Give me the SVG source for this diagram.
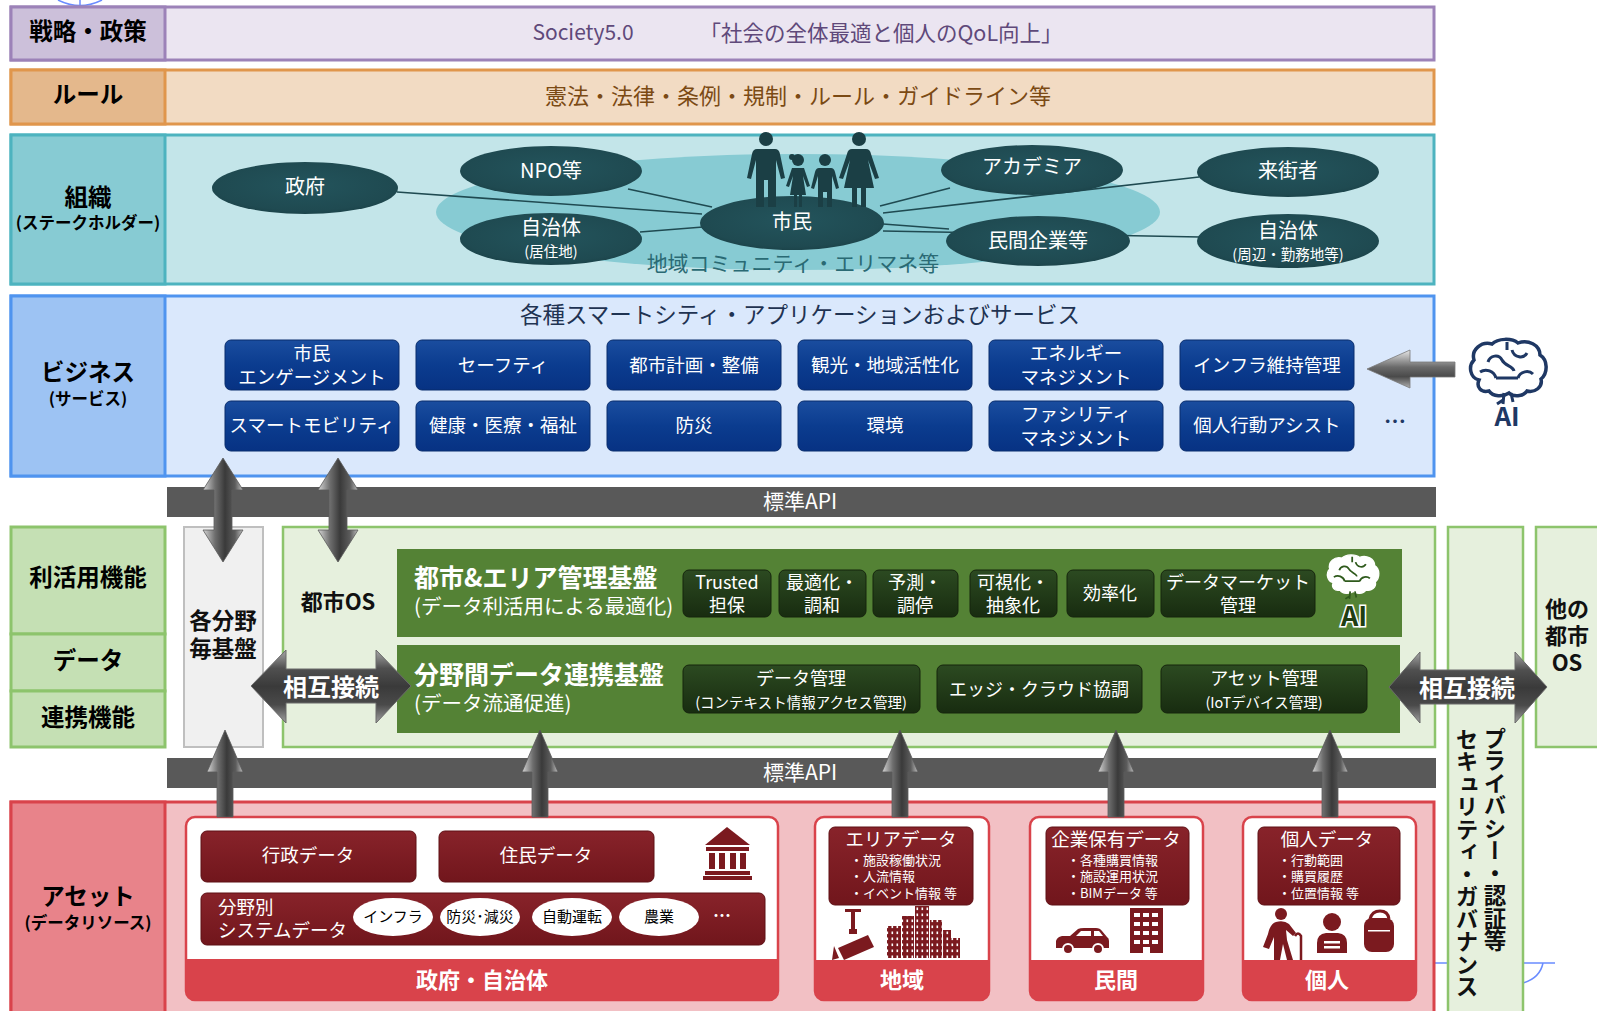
<svg xmlns="http://www.w3.org/2000/svg" width="1597" height="1011" viewBox="0 0 1597 1011">
<defs>
<style>
text { font-family: "Noto Sans CJK JP", "Noto Sans CJK SC", "Noto Sans", sans-serif; }
.c { text-anchor: middle; dominant-baseline: central; }
.s { text-anchor: start; dominant-baseline: central; }
.lbl { font-size: 23.5px; font-weight: 700; fill: #000; }
.sub { font-size: 16.5px; font-weight: 700; fill: #000; }
.ell { fill: url(#gEll); }
.eT { fill: #fff; font-size: 20px; }
.eS { fill: #fff; font-size: 14.5px; }
.btn { fill: url(#gBtn); stroke: #082c6c; stroke-width: 1; }
.bT { fill: #fff; font-size: 18.5px; }
.dg { fill: url(#gDkGreen); stroke: #15240d; stroke-width: 1; }
.gT { fill: #fff; font-size: 18px; }
.gS { fill: #fff; font-size: 14.5px; }
.rd { fill: url(#gRed); stroke: #5e1015; stroke-width: 1; }
.rT { fill: #fff; font-size: 18.5px; }
.rS { fill: #fff; font-size: 13px; }
.band { fill: #d9434b; }
.card { fill: #fff; stroke: #d9434b; stroke-width: 2.5; }
.bandT { fill: #fff; font-size: 22px; font-weight: 700; }
.icon { fill: #7b1a1f; }
.metalV { fill: url(#gMetalV); stroke: #5a5a5a; stroke-width: 0.8; }
.metalH { fill: url(#gMetalH); stroke: #6a6a6a; stroke-width: 1; }
.link { stroke: #1f4a51; stroke-width: 1.6; fill: none; }
.api { fill: #595959; }
.apiT { fill: #fff; font-size: 21px; }
.oval { fill: #fff; }
.ovT { fill: #000; font-size: 15px; }
.vt { writing-mode: vertical-rl; font-size: 22.5px; font-weight: 700; fill: #111; }
</style>
<radialGradient id="gEll" cx="0.5" cy="0.45" r="0.6">
<stop offset="0" stop-color="#23545c"/>
<stop offset="0.8" stop-color="#1f4a51"/>
<stop offset="1" stop-color="#1a4046"/>
</radialGradient>
<linearGradient id="gBtn" x1="0" y1="0" x2="0" y2="1">
<stop offset="0" stop-color="#1a4d9f"/>
<stop offset="0.5" stop-color="#0b3c8f"/>
<stop offset="1" stop-color="#073283"/>
</linearGradient>
<linearGradient id="gDkGreen" x1="0" y1="0" x2="0" y2="1">
<stop offset="0" stop-color="#2c4a21"/>
<stop offset="1" stop-color="#182c10"/>
</linearGradient>
<linearGradient id="gRed" x1="0" y1="0" x2="0" y2="1">
<stop offset="0" stop-color="#88232a"/>
<stop offset="1" stop-color="#71161c"/>
</linearGradient>
<linearGradient id="gMetalV" x1="0" y1="0" x2="1" y2="0">
<stop offset="0" stop-color="#d6d6d6"/>
<stop offset="0.3" stop-color="#6e6e6e"/>
<stop offset="0.55" stop-color="#3a3a3a"/>
<stop offset="0.8" stop-color="#5c5c5c"/>
<stop offset="1" stop-color="#bdbdbd"/>
</linearGradient>
<linearGradient id="gMetalH" x1="0" y1="0" x2="0" y2="1">
<stop offset="0" stop-color="#a8a8a8"/>
<stop offset="0.25" stop-color="#505050"/>
<stop offset="0.5" stop-color="#3a3a3a"/>
<stop offset="0.75" stop-color="#4a4a4a"/>
<stop offset="1" stop-color="#a0a0a0"/>
</linearGradient>
<linearGradient id="gAiArrow" x1="0" y1="0" x2="0" y2="1">
<stop offset="0" stop-color="#e8e8e8"/>
<stop offset="0.45" stop-color="#6a6a6a"/>
<stop offset="0.7" stop-color="#4a4a4a"/>
<stop offset="1" stop-color="#b0b0b0"/>
</linearGradient>
<pattern id="pWin" width="5" height="6" patternUnits="userSpaceOnUse">
<rect width="5" height="6" fill="#7b1a1f"/>
<rect x="1.5" y="1.5" width="1.6" height="2.6" fill="#fff"/>
</pattern>
<path id="brainOutline" d="M12,42 C3,40 1,28 7,22 C4,12 14,3 25,6 C31,0 45,0 51,5 C61,1 73,7 73,17 C81,22 81,35 74,41 C76,49 68,55 60,53 C56,59 46,59 42,55 C36,59 26,59 22,53 C14,55 9,49 12,42 Z"/>
<path id="brainFolds" fill="none" d="M21,24 C23,17 32,16 35,22 M45,12 C47,20 57,21 60,15 M13,34 C19,30 27,33 29,40 M29,40 H51 M51,40 C53,33 62,32 66,36 M35,22 C38,28 46,28 47,33 M40,4 V12 M37,55 L36,66 M44,55 L46,64 M36,62 L30,66"/>
</defs>

<rect width="1597" height="1011" fill="#fff"/>

<!-- stray guide marks -->
<g fill="none" stroke="#6a8cff" stroke-width="1.5">
<path d="M58,0 Q80,11 102,0 M80,0 V5"/>
<path d="M1435,963 H1555 M1543,963 Q1540,978 1523,983"/>
</g>

<!-- strategy / policy layer -->
<g id="layer-strategy">
<rect x="11" y="7" width="1423" height="53" fill="#ebe5f1" stroke="#9c82b8" stroke-width="3"/>
<rect x="11" y="7" width="154" height="53" fill="#ccc0da" stroke="#9c82b8" stroke-width="3"/>
<text class="c lbl" x="88" y="30">戦略・政策</text>
<text class="c" x="583" y="31" font-size="21" fill="#5f497a">Society5.0</text>
<text class="c" x="881" y="31" font-size="21.5" fill="#5f497a">「社会の全体最適と個人のQoL向上」</text>
</g>

<!-- rule layer -->
<g id="layer-rule">
<rect x="11" y="70" width="1423" height="54" fill="#f2dbc3" stroke="#e0964c" stroke-width="3"/>
<rect x="11" y="70" width="154" height="54" fill="#e4b88c" stroke="#e0964c" stroke-width="3"/>
<text class="c lbl" x="88" y="93">ルール</text>
<text class="c" x="798" y="94" font-size="22" fill="#7b4a14">憲法・法律・条例・規制・ルール・ガイドライン等</text>
</g>

<!-- organisation layer -->
<g id="layer-organization">
<rect x="11" y="135" width="1423" height="149" fill="#c3e5e9" stroke="#4db3bf" stroke-width="3"/>
<rect x="11" y="135" width="154" height="149" fill="#87cbd3" stroke="#4db3bf" stroke-width="3"/>
<text class="c lbl" x="88" y="196">組織</text>
<text class="c sub" x="88" y="222">(ステークホルダー)</text>
</g>

<g id="community">
<ellipse cx="798" cy="212" rx="362" ry="58" fill="#87cbd3"/>
<text class="c" x="793" y="262" font-size="21" fill="#2a6a74">地域コミュニティ・エリマネ等</text>
</g>

<g id="stakeholder-links">
<path class="link" d="M397,192 L702,214"/>
<path class="link" d="M628,189 L712,207"/>
<path class="link" d="M640,232 L703,227"/>
<path class="link" d="M950,188 L880,206"/>
<path class="link" d="M1199,177 L883,213"/>
<path class="link" d="M883,224 L949,229"/>
<path class="link" d="M883,231 L1200,237"/>
</g>

<g id="org-government">
<ellipse class="ell" cx="305" cy="188" rx="93" ry="26"/>
<text class="c eT" x="305" y="185">政府</text>
</g>
<g id="org-npo">
<ellipse class="ell" cx="551" cy="171" rx="91" ry="25"/>
<text class="c eT" x="551" y="169">NPO等</text>
</g>
<g id="org-municipality-home">
<ellipse class="ell" cx="551" cy="239" rx="91" ry="26"/>
<text class="c eT" x="551" y="226">自治体</text>
<text class="c eS" x="551" y="250">(居住地)</text>
</g>
<g id="org-citizen">
<ellipse class="ell" cx="792" cy="223" rx="92" ry="27"/>
<text class="c eT" x="792" y="220">市民</text>
</g>
<g id="org-academia">
<ellipse class="ell" cx="1032" cy="170" rx="91" ry="25"/>
<text class="c eT" x="1032" y="165">アカデミア</text>
</g>
<g id="org-company">
<ellipse class="ell" cx="1038" cy="241" rx="92" ry="25"/>
<text class="c eT" x="1038" y="239">民間企業等</text>
</g>
<g id="org-visitor">
<ellipse class="ell" cx="1288" cy="172" rx="91" ry="25"/>
<text class="c eT" x="1288" y="169">来街者</text>
</g>
<g id="org-municipality-near">
<ellipse class="ell" cx="1288" cy="241" rx="91" ry="27"/>
<text class="c eT" x="1288" y="229">自治体</text>
<text class="c eS" x="1288" y="253">(周辺・勤務地等)</text>
</g>

<!-- family silhouettes above the citizen node -->
<g id="citizens-figures" fill="#1b3f45">
<circle cx="766" cy="139" r="7"/>
<path d="M757,149 H775 Q779,149 780,154 L785,178 L781,179 L776,160 V207 H768 V180 H764 V207 H756 V160 L751,179 L747,178 L752,154 Q753,149 757,149 Z"/>
<circle cx="798" cy="160" r="6"/>
<circle cx="792" cy="157" r="3"/>
<path d="M792,168 H804 L810,186 L807,187 L803,176 L806,195 H802 V207 H799 V195 H797 V207 H794 V195 H790 L793,176 L789,187 L786,186 Z"/>
<circle cx="825" cy="160" r="6"/>
<path d="M819,168 H831 Q834,168 835,172 L839,188 L836,189 L832,176 V207 H827 V192 H823 V207 H818 V176 L814,189 L811,188 L815,172 Q816,168 819,168 Z"/>
<circle cx="859" cy="139" r="7"/>
<path d="M852,149 H866 Q870,149 871,154 L879,178 L875,179 L868,160 L874,188 H866 V207 H861 V188 H857 V207 H852 V188 H844 L850,160 L843,179 L839,178 L847,154 Q848,149 852,149 Z"/>
</g>

<!-- business layer -->
<g id="layer-business">
<rect x="11" y="296" width="1423" height="180" fill="#dae8fc" stroke="#4f94ef" stroke-width="3"/>
<rect x="11" y="296" width="154" height="180" fill="#9dc3f3" stroke="#4f94ef" stroke-width="3"/>
<text class="c lbl" x="88" y="371">ビジネス</text>
<text class="c sub" x="88" y="398">(サービス)</text>
<text class="c" x="800" y="313" font-size="22.5" fill="#1f3352">各種スマートシティ・アプリケーションおよびサービス</text>
<text class="c" x="1395" y="419" font-size="22" font-weight="700" fill="#1f3864">…</text>
</g>

<g id="svc-engagement">
<rect class="btn" x="225" y="340" width="174" height="50" rx="6"/>
<text class="c bT" x="312" y="352">市民</text>
<text class="c bT" x="312" y="376">エンゲージメント</text>
</g>
<g id="svc-safety">
<rect class="btn" x="416" y="340" width="174" height="50" rx="6"/>
<text class="c bT" x="503" y="364">セーフティ</text>
</g>
<g id="svc-planning">
<rect class="btn" x="607" y="340" width="174" height="50" rx="6"/>
<text class="c bT" x="694" y="364">都市計画・整備</text>
</g>
<g id="svc-tourism">
<rect class="btn" x="798" y="340" width="174" height="50" rx="6"/>
<text class="c bT" x="885" y="364">観光・地域活性化</text>
</g>
<g id="svc-energy">
<rect class="btn" x="989" y="340" width="174" height="50" rx="6"/>
<text class="c bT" x="1076" y="352">エネルギー</text>
<text class="c bT" x="1076" y="376">マネジメント</text>
</g>
<g id="svc-infra">
<rect class="btn" x="1180" y="340" width="174" height="50" rx="6"/>
<text class="c bT" x="1267" y="364">インフラ維持管理</text>
</g>
<g id="svc-mobility">
<rect class="btn" x="225" y="401" width="174" height="50" rx="6"/>
<text class="c bT" x="312" y="424" font-size="18">スマートモビリティ</text>
</g>
<g id="svc-health">
<rect class="btn" x="416" y="401" width="174" height="50" rx="6"/>
<text class="c bT" x="503" y="424">健康・医療・福祉</text>
</g>
<g id="svc-disaster">
<rect class="btn" x="607" y="401" width="174" height="50" rx="6"/>
<text class="c bT" x="694" y="424">防災</text>
</g>
<g id="svc-environment">
<rect class="btn" x="798" y="401" width="174" height="50" rx="6"/>
<text class="c bT" x="885" y="424">環境</text>
</g>
<g id="svc-facility">
<rect class="btn" x="989" y="401" width="174" height="50" rx="6"/>
<text class="c bT" x="1076" y="413">ファシリティ</text>
<text class="c bT" x="1076" y="437">マネジメント</text>
</g>
<g id="svc-personal">
<rect class="btn" x="1180" y="401" width="174" height="50" rx="6"/>
<text class="c bT" x="1267" y="424">個人行動アシスト</text>
</g>

<!-- AI badge beside business layer -->
<g id="ai-business">
<use href="#brainOutline" transform="translate(1467,338)" fill="#fff" stroke="#1f3864" stroke-width="3.5"/>
<use href="#brainFolds" transform="translate(1467,338)" stroke="#1f3864" stroke-width="3"/>
<text class="c" x="1507" y="414" font-size="26" font-weight="700" fill="#1f3864">AI</text>
</g>

<!-- standard API bars -->
<g id="api-upper">
<rect class="api" x="167" y="487" width="1269" height="30"/>
<text class="c apiT" x="800" y="500">標準API</text>
</g>
<g id="api-lower">
<rect class="api" x="167" y="758" width="1269" height="30"/>
<text class="c apiT" x="800" y="771">標準API</text>
</g>

<!-- function / data / linkage layer -->
<g id="layer-function">
<rect x="11" y="527" width="154" height="107" fill="#c5e0b4" stroke="#8dc46c" stroke-width="3"/>
<rect x="11" y="634" width="154" height="57" fill="#c5e0b4" stroke="#8dc46c" stroke-width="3"/>
<rect x="11" y="691" width="154" height="56" fill="#c5e0b4" stroke="#8dc46c" stroke-width="3"/>
<text class="c lbl" x="88" y="576">利活用機能</text>
<text class="c lbl" x="88" y="659">データ</text>
<text class="c lbl" x="88" y="716">連携機能</text>
</g>

<g id="domain-platform">
<rect x="184" y="527" width="79" height="220" fill="#f0f0f0" stroke="#bfbfbf" stroke-width="2"/>
<text class="c" x="223" y="619" font-size="22.5" font-weight="700" fill="#111">各分野</text>
<text class="c" x="223" y="647" font-size="22.5" font-weight="700" fill="#111">毎基盤</text>
</g>

<g id="city-os">
<rect x="283" y="527" width="1152" height="220" fill="#e6f0dd" stroke="#8dc46c" stroke-width="2.5"/>
<text class="c" x="338" y="600" font-size="22" font-weight="700" fill="#111">都市OS</text>
</g>

<g id="area-management">
<rect x="397" y="549" width="1005" height="88" fill="#548235"/>
<text class="s" x="414" y="576" font-size="25" font-weight="700" fill="#fff">都市&amp;エリア管理基盤</text>
<text class="s" x="414" y="605" font-size="20.5" fill="#fff">(データ利活用による最適化)</text>
</g>
<g id="fn-trusted">
<rect class="dg" x="683" y="570" width="88" height="47" rx="6"/>
<text class="c gT" x="727" y="581">Trusted</text>
<text class="c gT" x="727" y="604">担保</text>
</g>
<g id="fn-optimize">
<rect class="dg" x="779" y="570" width="87" height="47" rx="6"/>
<text class="c gT" x="822" y="581">最適化・</text>
<text class="c gT" x="822" y="604">調和</text>
</g>
<g id="fn-predict">
<rect class="dg" x="873" y="570" width="85" height="47" rx="6"/>
<text class="c gT" x="915" y="581">予測・</text>
<text class="c gT" x="915" y="604">調停</text>
</g>
<g id="fn-visualize">
<rect class="dg" x="970" y="570" width="87" height="47" rx="6"/>
<text class="c gT" x="1013" y="581">可視化・</text>
<text class="c gT" x="1013" y="604">抽象化</text>
</g>
<g id="fn-efficiency">
<rect class="dg" x="1067" y="570" width="87" height="47" rx="6"/>
<text class="c gT" x="1110" y="592">効率化</text>
</g>
<g id="fn-market">
<rect class="dg" x="1161" y="570" width="154" height="47" rx="6"/>
<text class="c gT" x="1238" y="581">データマーケット</text>
<text class="c gT" x="1238" y="604">管理</text>
</g>
<g id="ai-platform">
<use href="#brainOutline" transform="translate(1325,554) scale(0.68)" fill="#fff" stroke="#fff" stroke-width="2"/>
<use href="#brainFolds" transform="translate(1325,554) scale(0.68)" stroke="#2f5a1c" stroke-width="2.6"/>
<text class="c" x="1354" y="614" font-size="27" font-weight="700" fill="#1f3d12" stroke="#fff" stroke-width="3" paint-order="stroke">AI</text>
</g>

<g id="data-linkage">
<rect x="397" y="645" width="1003" height="88" fill="#548235"/>
<text class="s" x="414" y="673" font-size="25" font-weight="700" fill="#fff">分野間データ連携基盤</text>
<text class="s" x="414" y="702" font-size="20.5" fill="#fff">(データ流通促進)</text>
</g>
<g id="fn-data-mgmt">
<rect class="dg" x="683" y="665" width="237" height="48" rx="6"/>
<text class="c gT" x="801" y="677">データ管理</text>
<text class="c gS" x="801" y="701">(コンテキスト情報アクセス管理)</text>
</g>
<g id="fn-edge-cloud">
<rect class="dg" x="937" y="665" width="205" height="48" rx="6"/>
<text class="c gT" x="1039" y="688" font-size="18.5">エッジ・クラウド協調</text>
</g>
<g id="fn-asset-mgmt">
<rect class="dg" x="1161" y="665" width="206" height="48" rx="6"/>
<text class="c gT" x="1264" y="677">アセット管理</text>
<text class="c gS" x="1264" y="701">(IoTデバイス管理)</text>
</g>

<g id="security">
<rect x="1448" y="527" width="75" height="495" fill="#e6f0dd" stroke="#8dc46c" stroke-width="2.5"/>
<text class="vt" x="1495" y="727">プライバシー・認証等</text>
<text class="vt" x="1467" y="728">セキュリティ・ガバナンス</text>
</g>

<g id="other-city-os">
<rect x="1536" y="527" width="64" height="220" fill="#e6f0dd" stroke="#8dc46c" stroke-width="2.5"/>
<text class="c" x="1567" y="607" font-size="22" font-weight="700" fill="#111">他の</text>
<text class="c" x="1567" y="634" font-size="22" font-weight="700" fill="#111">都市</text>
<text class="c" x="1567" y="661" font-size="22" font-weight="700" fill="#111">OS</text>
</g>

<!-- asset layer -->
<g id="layer-asset">
<rect x="11" y="802" width="1423" height="220" fill="#f2c0c4" stroke="#d9434b" stroke-width="3"/>
<rect x="11" y="802" width="154" height="220" fill="#e8838a" stroke="#d9434b" stroke-width="3"/>
<text class="c lbl" x="88" y="895">アセット</text>
<text class="c sub" x="88" y="922">(データリソース)</text>
</g>

<g id="asset-government">
<rect class="card" x="186" y="817" width="592" height="183" rx="9"/>
<path class="band" d="M186,959 H778 V991 A9,9 0 0 1 769,1000 H195 A9,9 0 0 1 186,991 Z"/>
<text class="c bandT" x="482" y="978">政府・自治体</text>
<rect class="rd" x="201" y="831" width="215" height="51" rx="6"/>
<text class="c rT" x="308" y="854">行政データ</text>
<rect class="rd" x="439" y="831" width="215" height="51" rx="6"/>
<text class="c rT" x="546" y="854">住民データ</text>
<g class="icon">
<path d="M705,845 L727,827 L750,845 Z"/>
<rect x="706" y="847" width="43" height="4"/>
<rect x="709" y="853" width="6" height="16"/>
<rect x="719" y="853" width="6" height="16"/>
<rect x="730" y="853" width="6" height="16"/>
<rect x="740" y="853" width="6" height="16"/>
<rect x="705" y="871" width="45" height="4"/>
<rect x="703" y="876" width="49" height="4"/>
</g>
<rect class="rd" x="201" y="893" width="564" height="52" rx="6"/>
<text class="s rT" x="218" y="906" font-size="18">分野別</text>
<text class="s rT" x="218" y="929" font-size="18">システムデータ</text>
<ellipse class="oval" cx="393" cy="917" rx="40" ry="19"/>
<text class="c ovT" x="393" y="915">インフラ</text>
<ellipse class="oval" cx="480" cy="917" rx="40" ry="19"/>
<text class="c ovT" x="480" y="915" font-size="14">防災･減災</text>
<ellipse class="oval" cx="572" cy="917" rx="40" ry="19"/>
<text class="c ovT" x="572" y="915">自動運転</text>
<ellipse class="oval" cx="659" cy="917" rx="40" ry="19"/>
<text class="c ovT" x="659" y="915">農業</text>
<text class="c" x="722" y="914" font-size="18" font-weight="700" fill="#fff">…</text>
</g>

<g id="asset-area">
<rect class="card" x="815" y="817" width="174" height="183" rx="9"/>
<path class="band" d="M815,960 H989 V991 A9,9 0 0 1 980,1000 H824 A9,9 0 0 1 815,991 Z"/>
<text class="c bandT" x="902" y="978">地域</text>
<rect class="rd" x="829" y="827" width="144" height="78" rx="6"/>
<text class="c rT" x="901" y="838">エリアデータ</text>
<text class="s rS" x="850" y="859">・施設稼働状況</text>
<text class="s rS" x="850" y="875">・人流情報</text>
<text class="s rS" x="850" y="892">・イベント情報 等</text>
<g class="icon">
<rect x="845" y="909" width="16" height="3"/>
<rect x="851" y="909" width="4" height="20"/>
<rect x="849" y="929" width="8" height="5"/>
<path d="M838,948 L868,935 L874,947 L844,960 Z"/>
<path d="M834,946 L839,958 L832,960 Z"/>
</g>
<g fill="url(#pWin)">
<rect x="887" y="926" width="14" height="32"/>
<rect x="902" y="916" width="12" height="42"/>
<rect x="915" y="906" width="14" height="52"/>
<rect x="930" y="920" width="12" height="38"/>
<rect x="943" y="930" width="8" height="28"/>
<rect x="951" y="938" width="9" height="20"/>
</g>
</g>

<g id="asset-private">
<rect class="card" x="1030" y="817" width="173" height="183" rx="9"/>
<path class="band" d="M1030,960 H1203 V991 A9,9 0 0 1 1194,1000 H1039 A9,9 0 0 1 1030,991 Z"/>
<text class="c bandT" x="1116" y="978">民間</text>
<rect class="rd" x="1046" y="827" width="143" height="78" rx="6"/>
<text class="c rT" x="1116" y="838">企業保有データ</text>
<text class="s rS" x="1067" y="859">・各種購買情報</text>
<text class="s rS" x="1067" y="875">・施設運用状況</text>
<text class="s rS" x="1067" y="892">・BIMデータ 等</text>
<g class="icon">
<path d="M1056,948 V941 Q1057,937 1062,936 L1070,936 L1078,929 Q1080,928 1084,928 H1096 Q1100,928 1102,931 L1107,937 Q1109,938 1109,941 V948 Z"/>
<circle cx="1068" cy="949" r="5" stroke="#fff" stroke-width="2"/>
<circle cx="1098" cy="949" r="5" stroke="#fff" stroke-width="2"/>
<rect x="1130" y="908" width="33" height="45"/>
</g>
<g fill="#fff">
<path d="M1081,931 H1091 V936 H1076 Z"/>
<path d="M1094,931 H1099 L1103,936 H1094 Z"/>
<rect x="1134" y="913" width="6" height="4"/>
<rect x="1143" y="913" width="6" height="4"/>
<rect x="1152" y="913" width="6" height="4"/>
<rect x="1134" y="922" width="6" height="4"/>
<rect x="1143" y="922" width="6" height="4"/>
<rect x="1152" y="922" width="6" height="4"/>
<rect x="1134" y="931" width="6" height="4"/>
<rect x="1143" y="931" width="6" height="4"/>
<rect x="1152" y="931" width="6" height="4"/>
<rect x="1134" y="940" width="6" height="4"/>
<rect x="1143" y="940" width="6" height="4"/>
<rect x="1152" y="940" width="6" height="4"/>
<rect x="1143" y="947" width="7" height="6"/>
</g>
</g>

<g id="asset-personal">
<rect class="card" x="1243" y="817" width="173" height="183" rx="9"/>
<path class="band" d="M1243,960 H1416 V991 A9,9 0 0 1 1407,1000 H1252 A9,9 0 0 1 1243,991 Z"/>
<text class="c bandT" x="1327" y="978">個人</text>
<rect class="rd" x="1258" y="827" width="142" height="78" rx="6"/>
<text class="c rT" x="1327" y="838">個人データ</text>
<text class="s rS" x="1278" y="859">・行動範囲</text>
<text class="s rS" x="1278" y="875">・購買履歴</text>
<text class="s rS" x="1278" y="892">・位置情報 等</text>
<g class="icon">
<circle cx="1281" cy="914" r="6"/>
<path d="M1276,922 Q1270,924 1268,934 L1263,947 L1269,949 L1274,937 L1274,960 H1280 L1283,944 L1287,960 H1293 L1287,940 L1286,930 L1293,936 L1296,933 L1289,924 Q1284,920 1276,922 Z"/>
<path d="M1295,936 Q1298,931 1301,936 V960" fill="none" stroke="#7b1a1f" stroke-width="2.5"/>
<circle cx="1332" cy="922" r="9"/>
<path d="M1317,953 V943 Q1317,934 1326,933 H1338 Q1347,934 1347,943 V953 Z"/>
<rect x="1364" y="918" width="30" height="34" rx="8"/>
<path d="M1370,919 Q1372,911 1380,911 Q1388,911 1389,919" fill="none" stroke="#7b1a1f" stroke-width="3"/>
</g>
<g fill="#fff">
<rect x="1324" y="941" width="16" height="2.5"/>
<rect x="1324" y="946" width="16" height="2.5"/>
<rect x="1368" y="930" width="22" height="1.5"/>
</g>
</g>

<!-- connectors: interconnection and data-flow arrows -->
<g id="connectors">
<path class="metalV" d="M223,458 L243,490 L232,490 L232,530 L243,530 L223,562 L203,530 L214,530 L214,490 L203,490 Z"/>
<path class="metalV" d="M338,458 L358,490 L347,490 L347,530 L358,530 L338,562 L318,530 L329,530 L329,490 L318,490 Z"/>
<path d="M1367,369 L1410,350 L1410,362 L1455,362 L1455,377 L1410,377 L1410,388 Z" fill="url(#gAiArrow)" stroke="#7a7a7a" stroke-width="0.8"/>
<path class="metalH" d="M251,686 L286,650 L286,669 L376,669 L376,650 L411,686 L376,723 L376,703 L286,703 L286,723 Z"/>
<text class="c" x="331" y="685" font-size="24" font-weight="700" fill="#fff">相互接続</text>
<path class="metalH" d="M1389,687 L1420,652 L1420,670 L1515,670 L1515,652 L1547,687 L1515,723 L1515,704 L1420,704 L1420,723 Z"/>
<text class="c" x="1467" y="686" font-size="24" font-weight="700" fill="#fff">相互接続</text>
<path class="metalV" d="M225,730 L243,772 L233,772 L233,817 L217,817 L217,772 L207,772 Z"/>
<path class="metalV" d="M540,730 L558,772 L548,772 L548,817 L532,817 L532,772 L522,772 Z"/>
<path class="metalV" d="M900,730 L918,772 L908,772 L908,817 L892,817 L892,772 L882,772 Z"/>
<path class="metalV" d="M1116,730 L1134,772 L1124,772 L1124,817 L1108,817 L1108,772 L1098,772 Z"/>
<path class="metalV" d="M1330,730 L1348,772 L1338,772 L1338,817 L1322,817 L1322,772 L1312,772 Z"/>
</g>
</svg>
